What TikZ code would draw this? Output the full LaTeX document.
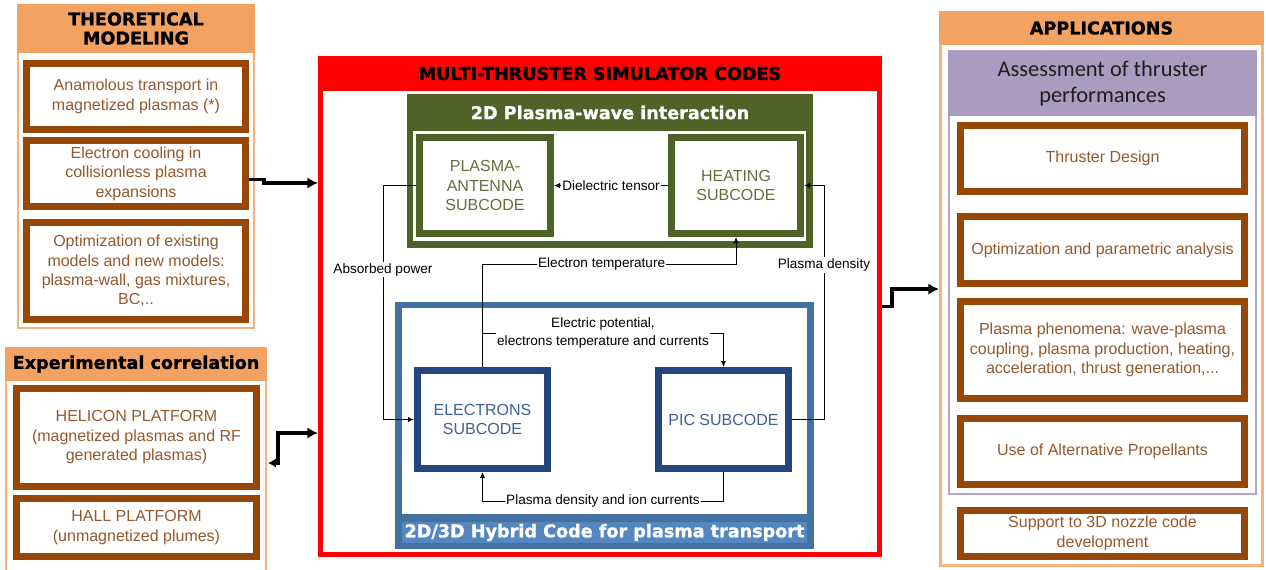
\documentclass[tikz,border=0pt]{standalone}
\usepackage{fontspec}
\setmainfont{Liberation Sans}
\newfontfamily\headfont{DejaVu Sans}[BoldFeatures={FakeBold=1.2}]
\newfontfamily\calfont{Carlito}
\usetikzlibrary{arrows.meta}

\newcommand{\boxfont}{\fontsize{12}{14.6}\selectfont}
\newcommand{\headtitle}{\headfont\bfseries\fontsize{13.2}{14.3}\selectfont}
\newcommand{\lblfont}{\fontsize{10.2}{13.5}\selectfont}

\tikzset{every picture/.style={line width=0.75pt}}
\tikzset{
  wh/.style 2 args={minimum width=#1*0.75pt, minimum height=#2*0.75pt},
  panel/.style={draw={rgb, 255:red, 246; green, 178; blue, 122}, fill=white, inner sep=0pt},
  panelhead/.style={fill={rgb, 255:red, 244; green, 162; blue, 97}, inner sep=0pt, align=center, font=\headtitle},
  brownbox/.style={draw={rgb, 255:red, 151; green, 72; blue, 6}, line width=5.25pt, fill=white, inner sep=0pt, align=center, font=\boxfont, text={rgb, 255:red, 150; green, 88; blue, 45}},
  subbox/.style={line width=5.25pt, fill=white, inner sep=0pt, align=center, font=\boxfont},
  wavebox/.style={subbox, draw={rgb, 255:red, 79; green, 98; blue, 40}, text={rgb, 255:red, 98; green, 112; blue, 62}},
  hybbox/.style={subbox, draw={rgb, 255:red, 36; green, 70; blue, 124}, text={rgb, 255:red, 62; green, 96; blue, 152}},
  plain/.style={inner sep=0pt},
  lbl/.style={fill=white, inner sep=1pt, font=\lblfont, align=center},
  flow/.style={-{Latex[length=4.5pt,width=4pt]}},
  bigflow/.style={line width=2.6pt, -{Latex[length=8pt,width=8.5pt]}}
}

\begin{document}
\begin{tikzpicture}[x=0.75pt,y=0.75pt,yscale=-1,xscale=1]
\useasboundingbox (0,0) rectangle (1266,569);

%Shape: Rectangle [id:theo]
\node[panel, line width=1.5pt, wh={236}{323}] (theo) at (136,166.5) {};
\node[panelhead, wh={238}{49}] (theohead) at (136,28.5) {THEORETICAL\\MODELING};
\node[brownbox, wh={219}{66}] (anam) at (136,96.5) {Anamolous transport in\\magnetized plasmas (*)};
\node[brownbox, wh={219}{66}] (cool) at (136,173.5) {Electron cooling in\\collisionless plasma\\expansions};
\node[brownbox, wh={219}{97}] (optm) at (136,271) {Optimization of existing\\models and new models:\\plasma-wall, gas mixtures,\\BC,..};

%Shape: Rectangle [id:expe]
\node[panel, line width=1.5pt, wh={260}{227}] (expe) at (136,461.5) {};
\node[panelhead, wh={262}{34}] (expehead) at (136,364) {Experimental correlation};
\node[brownbox, wh={240}{98}] (heli) at (136.5,437.5) {HELICON PLATFORM\\(magnetized plasmas and RF\\generated plasmas)};
\node[brownbox, wh={240}{58}] (hall) at (136.5,527.5) {HALL PLATFORM\\(unmagnetized plumes)};

%Shape: Rectangle [id:app]
\node[panel, line width=2.25pt, wh={322}{553}] (app) at (1101.5,289) {};
\node[panelhead, wh={325}{34}] (apphead) at (1101.5,28) {APPLICATIONS};
\node[draw={rgb, 255:red, 180; green, 165; blue, 202}, line width=1.5pt, fill=white, wh={307}{443}] (perf) at (1102.5,272.5) {};
\node[plain, fill={rgb, 255:red, 170; green, 155; blue, 192}, wh={309}{65}, align=center, font=\calfont\fontsize{16.8}{19.5}\selectfont, text={rgb, 255:red, 30; green, 30; blue, 30}] (perfhead) at (1102.5,83.5) {Assessment of thruster\\performances};
\node[brownbox, wh={284}{66}] (design) at (1102.5,158.5) {Thruster Design};
\node[brownbox, wh={284}{67}] (optpar) at (1102.5,250) {Optimization and parametric analysis};
\node[brownbox, wh={284}{97}] (phen) at (1102.5,350) {Plasma phenomena: wave-plasma\\coupling, plasma production, heating,\\acceleration, thrust generation,...};
\node[brownbox, wh={284}{66}] (prop) at (1102.5,451.5) {Use of Alternative Propellants};
\node[brownbox, wh={284}{46}] (nozzle) at (1102.5,533.5) {Support to 3D nozzle code\\development};

%Shape: Rectangle [id:sim]
\node[draw={rgb, 255:red, 255; green, 0; blue, 0}, line width=3.75pt, fill=white, wh={559}{496}] (sim) at (600,306.5) {};
\node[plain, fill={rgb, 255:red, 255; green, 0; blue, 0}, wh={564}{35}, font=\headtitle] (simhead) at (600,73.5) {MULTI-THRUSTER SIMULATOR CODES};

%Shape: Rectangle [id:wave]
\node[plain, fill={rgb, 255:red, 79; green, 98; blue, 40}, wh={406}{154}] (wave) at (610,171) {};
\node[plain, fill=white, wh={393}{110}] (wavein) at (609.5,186) {};
\node[plain, text=white, font=\headtitle] (wavehead) at (610,112.5) {2D Plasma-wave interaction};
\node[wavebox, wh={131}{96}] (pant) at (485,185.5) {PLASMA-\\ANTENNA\\SUBCODE};
\node[wavebox, wh={129}{96}] (heat) at (736,185.5) {HEATING\\SUBCODE};

%Shape: Rectangle [id:hyb]
\node[plain, fill={rgb, 255:red, 68; green, 114; blue, 160}, wh={419}{247}] (hyb) at (604.5,425.5) {};
\node[plain, fill=white, wh={405}{206}] (hybin) at (604.5,411) {};
\node[plain, fill={rgb, 255:red, 84; green, 134; blue, 192}, wh={405}{21}, text=white, font=\headtitle] (hybhead) at (604.5,532.5) {2D/3D Hybrid Code for plasma transport};
\node[hybbox, wh={130}{98}] (elec) at (482.5,419.5) {ELECTRONS\\SUBCODE};
\node[hybbox, wh={130}{98}] (pic) at (723.5,419.5) {PIC SUBCODE};

%Connectors inside the simulator
\draw[flow] (heat.west) -- node[lbl] {Dielectric tensor} (pant.east);
\draw[flow] (pant.west) -- ++(-33,0) |- node[lbl, pos=0.18] {Absorbed power} (elec.west);
\draw[flow] (pic.east) -- ++(32,0) |- node[lbl, pos=0.33] {Plasma density} (heat.east);
\draw[flow] (elec.north) -- ++(0,-103) -| node[lbl, pos=0.235] {Electron temperature} (heat.south);
\draw[flow] (elec.north) ++(0,-34) -| node[lbl, pos=0.25] {Electric potential,\\electrons temperature and currents} (pic.north);
\draw[flow] (pic.south) -- ++(0,29) -| node[lbl, pos=0.25] {Plasma density and ion currents} (elec.south);

%Connectors between the panels
\coordinate (simin) at (318,183);
\coordinate (helout) at (268,463);
\coordinate (simexp) at (318,433);
\draw[bigflow] ([yshift=4.5pt]cool.east) -- ++(15,0) |- (simin);
\draw[bigflow, {Latex[length=6pt,width=7pt]}-{Latex[length=8pt,width=8.5pt]}] (helout) -- ++(10,0) |- (simexp);
\draw[bigflow] (sim.east) -- ++(10,0) |- (app.west);

\end{tikzpicture}
\end{document}
